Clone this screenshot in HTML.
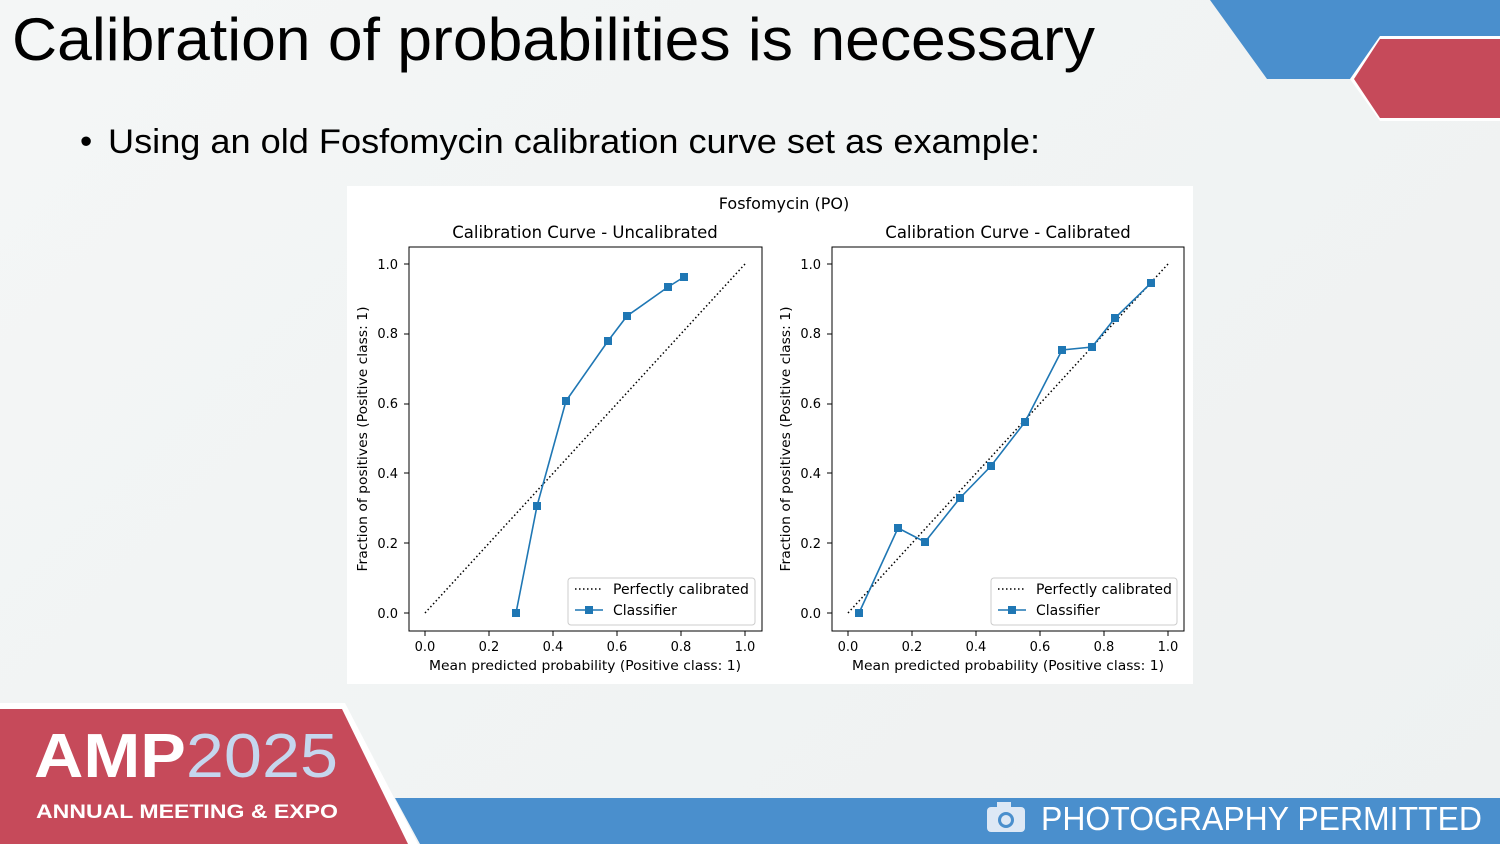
<!DOCTYPE html>
<html><head><meta charset="utf-8"><style>
html,body{margin:0;padding:0;}
body{width:1500px;height:844px;overflow:hidden;background:linear-gradient(135deg,#f4f6f6,#eef1f1);font-family:"Liberation Sans","DejaVu Sans",sans-serif;position:relative;}
</style></head><body>
<svg width="1500" height="844" style="position:absolute;left:0;top:0" font-family="DejaVu Sans, Liberation Sans, sans-serif">
<polygon points="1210,0 1500,0 1500,79 1267,79" fill="#4a8fcd"/>
<polygon points="1380,36 1500,36 1500,121 1380,121 1350,79" fill="#fff"/>
<polygon points="1380,39 1500,39 1500,118 1380,118 1354,79" fill="#c64a5a"/>
<polygon points="395,798 1500,798 1500,844 420,844" fill="#4a8fcd"/>
<polygon points="0,703 345,703 418,844 0,844" fill="#fff"/>
<polygon points="0,709 342,709 408,844 0,844" fill="#c64a5a"/>
<text x="34" y="777" font-family="Liberation Sans" font-weight="bold" font-size="62" fill="#fff" textLength="304" lengthAdjust="spacingAndGlyphs">AMP<tspan font-weight="normal" fill="#c5d7ee">2025</tspan></text>
<text x="36" y="818" font-family="Liberation Sans" font-weight="bold" font-size="19" fill="#fff" textLength="302" lengthAdjust="spacingAndGlyphs">ANNUAL MEETING &amp; EXPO</text>
<rect x="987" y="807" width="38" height="25" rx="4" fill="#dde8f5"/>
<rect x="997" y="802" width="14" height="7" fill="#dde8f5"/>
<circle cx="1006" cy="820" r="8" fill="#4a8fcd"/><circle cx="1006" cy="820" r="5" fill="#dde8f5"/>
<text x="1041" y="830" font-family="Liberation Sans" font-size="33" fill="#fff" textLength="441" lengthAdjust="spacingAndGlyphs">PHOTOGRAPHY PERMITTED</text>
<text x="12" y="60" font-family="Liberation Sans" font-size="60" fill="#000" textLength="1083" lengthAdjust="spacingAndGlyphs">Calibration of probabilities is necessary</text>
<text x="80" y="153" font-family="Liberation Sans" font-size="35" fill="#000">•</text>
<text x="108" y="153" font-family="Liberation Sans" font-size="34" fill="#000" textLength="932" lengthAdjust="spacingAndGlyphs">Using an old Fosfomycin calibration curve set as example:</text>
<rect x="347" y="186" width="846" height="498" fill="#fff"/>
<text x="784" y="209" font-size="16" text-anchor="middle">Fosfomycin (PO)</text>
<g id="L">
<text x="585" y="238" font-size="16.5" text-anchor="middle">Calibration Curve - Uncalibrated</text>
<rect x="409" y="247" width="353" height="384" fill="none" stroke="#000" stroke-width="1"/>
<g font-size="13" text-anchor="end">
<text x="398" y="618">0.0</text><text x="398" y="548">0.2</text><text x="398" y="478">0.4</text><text x="398" y="408">0.6</text><text x="398" y="338">0.8</text><text x="398" y="269">1.0</text></g>
<g stroke="#000"><line x1="404" x2="409" y1="613" y2="613"/><line x1="404" x2="409" y1="543" y2="543"/><line x1="404" x2="409" y1="473" y2="473"/><line x1="404" x2="409" y1="404" y2="404"/><line x1="404" x2="409" y1="334" y2="334"/><line x1="404" x2="409" y1="264" y2="264"/>
<line y1="631" y2="636" x1="425" x2="425"/><line y1="631" y2="636" x1="489" x2="489"/><line y1="631" y2="636" x1="553" x2="553"/><line y1="631" y2="636" x1="617" x2="617"/><line y1="631" y2="636" x1="681" x2="681"/><line y1="631" y2="636" x1="745" x2="745"/></g>
<g font-size="13" text-anchor="middle"><text x="425" y="651">0.0</text><text x="489" y="651">0.2</text><text x="553" y="651">0.4</text><text x="617" y="651">0.6</text><text x="681" y="651">0.8</text><text x="745" y="651">1.0</text></g>
<text x="585" y="670" font-size="13.5" text-anchor="middle" textLength="312" lengthAdjust="spacingAndGlyphs">Mean predicted probability (Positive class: 1)</text>
<text transform="translate(367,439) rotate(-90)" font-size="13.5" text-anchor="middle" textLength="265" lengthAdjust="spacingAndGlyphs">Fraction of positives (Positive class: 1)</text>
<line x1="425" y1="613" x2="745" y2="264" stroke="#000" stroke-width="1.5" stroke-dasharray="1.5,2.5"/>
<polyline points="516,613 537,506 566,401 608,341 627,316 668,287 684,277" fill="none" stroke="#1f77b4" stroke-width="1.6"/>
<g fill="#1f77b4"><rect x="512" y="609" width="8" height="8"/><rect x="533" y="502" width="8" height="8"/><rect x="562" y="397" width="8" height="8"/><rect x="604" y="337" width="8" height="8"/><rect x="623" y="312" width="8" height="8"/><rect x="664" y="283" width="8" height="8"/><rect x="680" y="273" width="8" height="8"/></g>
<rect x="568" y="578" width="187" height="47" rx="3" fill="#fff" stroke="#ccc"/>
<line x1="575" x2="603" y1="589" y2="589" stroke="#000" stroke-width="1.5" stroke-dasharray="1.5,2.5"/>
<text x="613" y="594" font-size="14">Perfectly calibrated</text>
<line x1="575" x2="603" y1="610" y2="610" stroke="#1f77b4" stroke-width="1.6"/><rect x="585" y="606" width="8" height="8" fill="#1f77b4"/>
<text x="613" y="615" font-size="14">Classifier</text>
</g>
<g transform="translate(423,0)">
<text x="585" y="238" font-size="16.5" text-anchor="middle">Calibration Curve - Calibrated</text>
<rect x="409" y="247" width="352" height="384" fill="none" stroke="#000" stroke-width="1"/>
<g font-size="13" text-anchor="end">
<text x="398" y="618">0.0</text><text x="398" y="548">0.2</text><text x="398" y="478">0.4</text><text x="398" y="408">0.6</text><text x="398" y="338">0.8</text><text x="398" y="269">1.0</text></g>
<g stroke="#000"><line x1="404" x2="409" y1="613" y2="613"/><line x1="404" x2="409" y1="543" y2="543"/><line x1="404" x2="409" y1="473" y2="473"/><line x1="404" x2="409" y1="404" y2="404"/><line x1="404" x2="409" y1="334" y2="334"/><line x1="404" x2="409" y1="264" y2="264"/>
<line y1="631" y2="636" x1="425" x2="425"/><line y1="631" y2="636" x1="489" x2="489"/><line y1="631" y2="636" x1="553" x2="553"/><line y1="631" y2="636" x1="617" x2="617"/><line y1="631" y2="636" x1="681" x2="681"/><line y1="631" y2="636" x1="745" x2="745"/></g>
<g font-size="13" text-anchor="middle"><text x="425" y="651">0.0</text><text x="489" y="651">0.2</text><text x="553" y="651">0.4</text><text x="617" y="651">0.6</text><text x="681" y="651">0.8</text><text x="745" y="651">1.0</text></g>
<text x="585" y="670" font-size="13.5" text-anchor="middle" textLength="312" lengthAdjust="spacingAndGlyphs">Mean predicted probability (Positive class: 1)</text>
<text transform="translate(367,439) rotate(-90)" font-size="13.5" text-anchor="middle" textLength="265" lengthAdjust="spacingAndGlyphs">Fraction of positives (Positive class: 1)</text>
<line x1="425" y1="613" x2="745" y2="264" stroke="#000" stroke-width="1.5" stroke-dasharray="1.5,2.5"/>
<polyline points="436,613 475,528 502,542 537,498 568,466 602,422 639,350 669,347 692,318 728,283" fill="none" stroke="#1f77b4" stroke-width="1.6"/>
<g fill="#1f77b4"><rect x="432" y="609" width="8" height="8"/><rect x="471" y="524" width="8" height="8"/><rect x="498" y="538" width="8" height="8"/><rect x="533" y="494" width="8" height="8"/><rect x="564" y="462" width="8" height="8"/><rect x="598" y="418" width="8" height="8"/><rect x="635" y="346" width="8" height="8"/><rect x="665" y="343" width="8" height="8"/><rect x="688" y="314" width="8" height="8"/><rect x="724" y="279" width="8" height="8"/></g>
<rect x="568" y="578" width="186" height="47" rx="3" fill="#fff" stroke="#ccc"/>
<line x1="575" x2="603" y1="589" y2="589" stroke="#000" stroke-width="1.5" stroke-dasharray="1.5,2.5"/>
<text x="613" y="594" font-size="14">Perfectly calibrated</text>
<line x1="575" x2="603" y1="610" y2="610" stroke="#1f77b4" stroke-width="1.6"/><rect x="585" y="606" width="8" height="8" fill="#1f77b4"/>
<text x="613" y="615" font-size="14">Classifier</text>
</g>
</svg>
</body></html>
